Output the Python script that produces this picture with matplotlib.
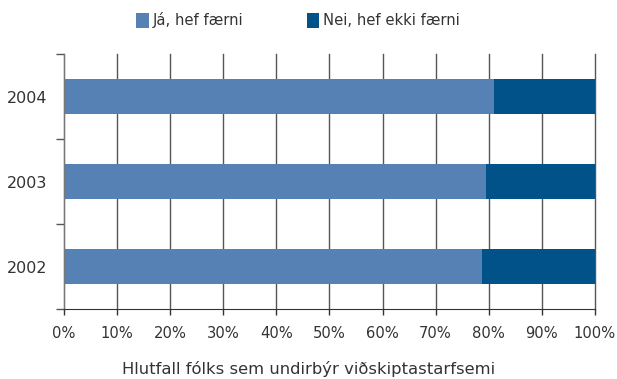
import numpy as np
import matplotlib.pyplot as plt

years = ['2002', '2003', '2004']
ja = [78.7, 79.5, 81.0]      # Já, hef færni
nei = [21.3, 20.5, 19.0]     # Nei, hef ekki færni

col_ja = '#5581b5'
col_nei = '#02528a'
txt = '#333333'

plt.rcParams['font.family'] = ['DejaVu Sans']

fig = plt.figure(figsize=(6.17, 3.79), dpi=100)
ax = fig.add_axes([0.1037, 0.1847, 0.8606, 0.6728])

y = np.arange(len(years))
h = 0.41
ax.barh(y, ja, height=h, color=col_ja, label='Já, hef færni', zorder=2)
ax.barh(y, nei, left=ja, height=h, color=col_nei, label='Nei, hef ekki færni', zorder=2)

ax.set_xlim(0, 100)
ax.set_ylim(-0.5, 2.5)
ax.set_xticks(np.arange(0, 101, 10))
ax.set_xticklabels([f'{v}%' for v in range(0, 101, 10)], fontsize=10.6, color=txt)
ax.set_yticks(y)
ax.set_yticklabels(years, fontsize=11.5, color=txt)
ax.set_yticks([-0.5, 0.5, 1.5, 2.5], minor=True)
ax.tick_params(axis='y', which='major', length=0, pad=12)
ax.tick_params(axis='y', which='minor', length=6, color='#555555', width=1)
ax.tick_params(axis='x', length=4, color='#333333', width=1, pad=8)

ax.grid(axis='x', color='#555555', lw=1, zorder=0)
for gl in ax.get_xgridlines():
    gl.set_clip_on(False)
ax.set_axisbelow(True)
for s in ['top', 'right']:
    ax.spines[s].set_visible(False)
ax.spines['left'].set_color('#777777')
ax.spines['bottom'].set_color('#333333')

fig.text(0.5, 0.012, 'Hlutfall fólks sem undirbýr viðskiptastarfsemi',
         ha='center', va='baseline', fontsize=11.8, color=txt)

fig.legend(*ax.get_legend_handles_labels(), loc='center', bbox_to_anchor=(0.483, 0.946),
           ncol=2, frameon=False, fontsize=10.6, handlelength=0.85, handleheight=1.1,
           handletextpad=0.25, columnspacing=4.3, labelcolor=txt)

fig.savefig('out.png', dpi=100)
